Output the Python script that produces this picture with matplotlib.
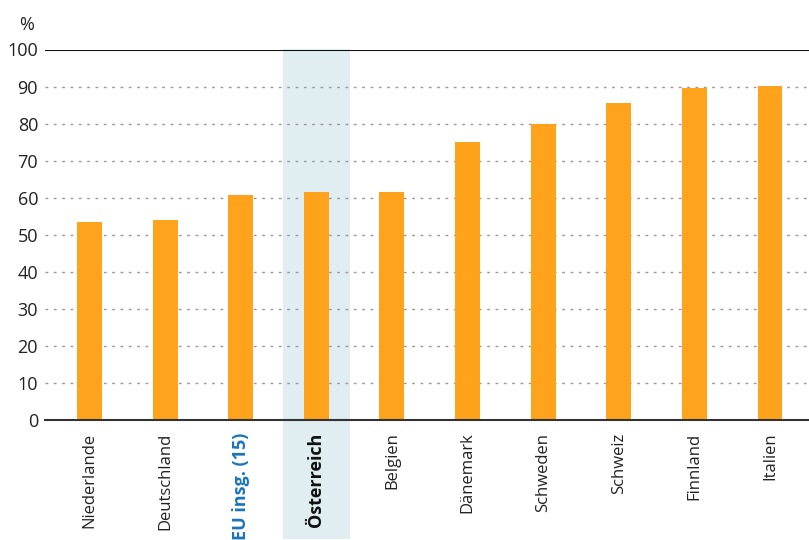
import matplotlib
matplotlib.use("Agg")
import matplotlib.pyplot as plt
from matplotlib.patches import Rectangle

categories = ["Niederlande", "Deutschland", "EU insg. (15)", "Österreich", "Belgien",
              "Dänemark", "Schweden", "Schweiz", "Finnland", "Italien"]
values = [53.5, 54.0, 60.7, 61.5, 61.5, 75.0, 79.9, 85.6, 89.6, 90.1]
yticks = [0, 10, 20, 30, 40, 50, 60, 70, 80, 90, 100]
highlight = "Österreich"
eu_label = "EU insg. (15)"

plt.rcParams['font.family'] = ['Open Sans', 'DejaVu Sans']

fig = plt.figure(figsize=(8.09, 5.40), dpi=100)
ax = fig.add_axes([45/809, 1 - 420/540, 1 - 45/809, (420 - 49.5)/540])

x = list(range(len(categories)))
ax.set_xlim(-0.589, 9.516)
ax.set_ylim(0, 100)

hi = categories.index(highlight)
# highlight band extending below the axis
band = Rectangle((hi - 0.443, -32), 0.886, 132, facecolor="#E0EEF1",
                 edgecolor="none", clip_on=False, zorder=0)
ax.add_patch(band)

for yv in yticks[1:-1]:
    ax.axhline(yv, color="#999999", linewidth=1.0, linestyle=(0, (2, 4)), zorder=1)
ax.axhline(100, color="#111111", linewidth=1.5, zorder=3)

ax.bar(x, values, width=0.33, color="#FFA31D", zorder=2)

for s in ["left", "right", "top"]:
    ax.spines[s].set_visible(False)
ax.spines["bottom"].set_color("#333333")
ax.spines["bottom"].set_linewidth(1.5)
ax.spines["bottom"].set_zorder(4)

ax.set_yticks(yticks)
ax.set_yticklabels([str(v) for v in yticks], fontsize=13, color="#222222")
ax.tick_params(axis="y", length=0, pad=5)
ax.set_xticks(x)
ax.set_xticklabels(categories, rotation=90, fontsize=12, color="#222222")
ax.tick_params(axis="x", length=0, pad=9)
for lbl in ax.get_xticklabels():
    if lbl.get_text() == eu_label:
        lbl.set_color("#1A75BC")
        lbl.set_fontweight("bold")
        lbl.set_fontsize(13)
    elif lbl.get_text() == highlight:
        lbl.set_fontweight("bold")
        lbl.set_color("#111111")
        lbl.set_fontsize(13)

fig.text(27/809, 1 - 25/540, "%", fontsize=13, ha="center", va="center", color="#222222")

fig.savefig("out.png", dpi=100)
